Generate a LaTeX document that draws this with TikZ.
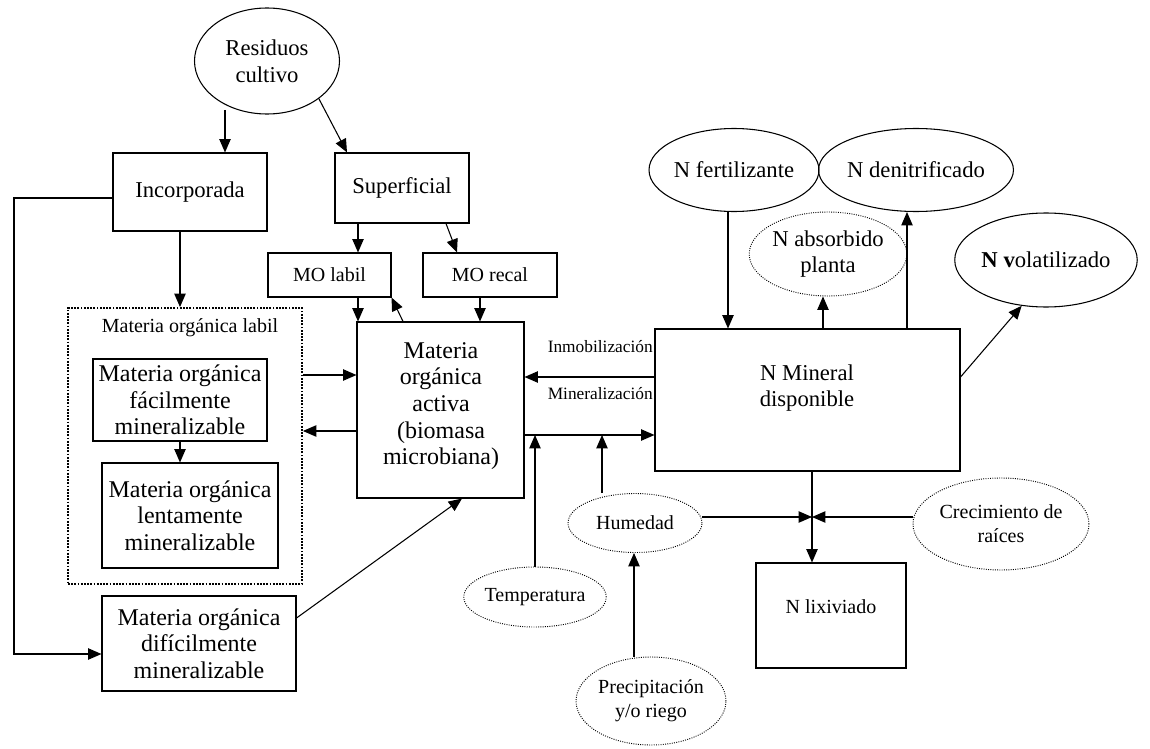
\documentclass[tikz,border=0pt]{standalone}
\usepackage{fontspec}
\setmainfont{Liberation Serif}
\usetikzlibrary{arrows.meta,shapes.geometric}
\def\px{*0.75pt}
\tikzset{
  bigtxt/.style={font=\fontsize{17}{20}\selectfont, align=center},
  motxt/.style={font=\fontsize{18}{20}\selectfont, align=center},
  midtxt/.style={font=\fontsize{15}{18}\selectfont, align=center},
  smalltxt/.style={font=\fontsize{13}{15}\selectfont},
  box/.style={draw, line width=0.8pt, rectangle, inner sep=0pt},
  ell/.style={draw, line width=0.8pt, ellipse, inner sep=0pt},
  dell/.style={draw, line width=0.7pt, densely dotted, ellipse, inner sep=0pt},
  dbox/.style={draw, line width=1.4pt, densely dotted, rectangle, inner sep=0pt},
  arr/.style={line width=0.8pt, -{Triangle[length=10pt,width=8.5pt]}},
}
\begin{document}
\begin{tikzpicture}[x=0.75pt,y=-0.75pt]
\useasboundingbox (0,0) rectangle (1150,749);
% nodes
\node[ell, bigtxt, minimum width=145\px, minimum height=106\px] (res) at (267,61) {Residuos\\cultivo};
\node[box, bigtxt, minimum width=154\px, minimum height=78\px] (incorp) at (190,192) {Incorporada};
\node[box, bigtxt, minimum width=134\px, minimum height=70\px] (sup) at (402,188) {Superficial};
\node[box, midtxt, minimum width=123\px, minimum height=44\px] (molabil) at (329.5,275) {MO labil};
\node[box, midtxt, minimum width=134\px, minimum height=44\px] (morecal) at (490,275) {MO recal};
\node[dbox, minimum width=234\px, minimum height=276\px] (dotbox) at (185,446) {};
\node[midtxt] (dottitle) at (190,328) {Materia orgánica labil};
\node[box, motxt, minimum width=174\px, minimum height=82\px] (facil) at (180,400) {Materia orgánica\\fácilmente\\mineralizable};
\node[box, motxt, minimum width=176\px, minimum height=105\px] (lent) at (190,515.5) {Materia orgánica\\lentamente\\mineralizable};
\node[box, motxt, minimum width=194\px, minimum height=95\px] (dific) at (199,643.5) {Materia orgánica\\difícilmente\\mineralizable};
\node[box, minimum width=167\px, minimum height=176\px] (bio) at (440.5,410) {};
\node[motxt] (biotext) at (441,406) {Materia\\orgánica\\activa\\(biomasa\\microbiana)};
\node[box, minimum width=305\px, minimum height=142\px] (nmin) at (807.5,400) {};
\node[bigtxt] (nmintext) at (807,388) {N Mineral\\disponible};
\node[box, minimum width=150\px, minimum height=105\px] (nlix) at (831,615.5) {};
\node[midtxt] (nlixtext) at (831,607) {N lixiviado};
\node[ell, bigtxt, minimum width=155\px, minimum height=83\px] (nfert) at (734,170) {N fertilizante};
\node[ell, bigtxt, minimum width=164\px, minimum height=83\px] (nden) at (916,170) {N denitrificado};
\node[dell, bigtxt, minimum width=138\px, minimum height=84\px] (nabs) at (828,254) {N absorbido\\planta};
\node[ell, bigtxt, minimum width=152\px, minimum height=94\px] (nvol) at (1046,260) {\textbf{N v}olatilizado};
\node[dell, midtxt, minimum width=134\px, minimum height=60\px] (temp) at (535,597) {Temperatura};
\node[dell, midtxt, minimum width=134\px, minimum height=59\px] (hum) at (635,523) {Humedad};
\node[dell, midtxt, minimum width=150\px, minimum height=88\px] (prec) at (651,701) {Precipitación\\y/o riego};
\node[dell, midtxt, minimum width=176\px, minimum height=92\px] (crec) at (1001,524) {Crecimiento de\\raíces};
\node[smalltxt, anchor=east, inner sep=0pt] (inmo) at (653,347) {Inmobilización};
\node[smalltxt, anchor=east, inner sep=0pt] (mine) at (653,394) {Mineralización};
\coordinate (r1) at (225,110);
\coordinate (junc) at (812,517);
% connectors
\draw[arr] (r1) -- (incorp.north -| r1);
\draw[arr] (res.-36) -- (sup.north -| 347,0);
\draw[arr] (incorp.south -| 180,0) -- (dotbox.north -| 180,0);
\draw[arr] (incorp.west |- 0,198) -- (14,198) -- (14,654) -- (dific.west |- 0,654);
\draw[arr] (sup.south -| 358,0) -- (molabil.north -| 358,0);
\draw[arr] (sup.south -| 446,0) -- (morecal.north -| 457,0);
\draw[arr] (molabil.south -| 358,0) -- (bio.north -| 358,0);
\draw[arr] (morecal.south -| 480,0) -- (bio.north -| 480,0);
\draw[arr] (bio.north -| 403,0) -- (molabil.south east);
\draw[arr] (dotbox.east |- 0,375) -- (bio.west |- 0,375);
\draw[arr] (bio.west |- 0,431) -- (dotbox.east |- 0,431);
\draw[arr] (facil.south -| 180,0) -- (lent.north -| 180,0);
\draw[arr] (dific.east |- 0,618) -- (bio.south -| 462,0);
\draw[arr] (nmin.west |- 0,377) -- (bio.east |- 0,377);
\draw[arr] (bio.east |- 0,435) -- (nmin.west |- 0,435);
\draw[arr] (temp.north) -- (temp.north |- 0,435);
\draw[arr] (hum.north -| 602,0) -- (602,435);
\draw[arr] (prec.north -| 634,0) -- (hum.south -| 634,0);
\draw[arr] (nmin.south -| 812,0) -- (nlix.north -| 812,0);
\draw[arr] (hum.east |- 0,517) -- (junc);
\draw[arr] (crec.west |- 0,517) -- (junc);
\draw[arr] (nfert.south -| 728,0) -- (nmin.north -| 728,0);
\draw[arr] (nmin.north -| 823,0) -- (nabs.south -| 823,0);
\draw[arr] (nmin.north -| 907,0) -- (nden.south -| 907,0);
\draw[arr] (nmin.east |- 0,377) -- (nvol.242);
\end{tikzpicture}
\end{document}
